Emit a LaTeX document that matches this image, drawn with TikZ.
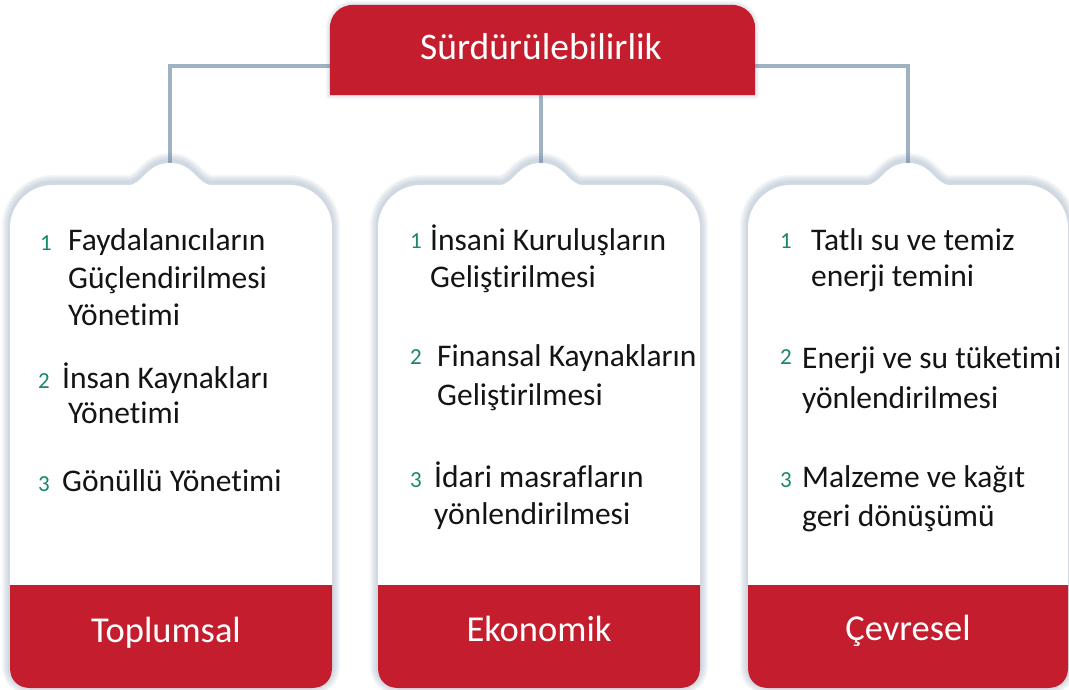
\documentclass[tikz,border=0pt]{standalone}
\usepackage{fontspec}
\setmainfont{Carlito}[Ligatures=NoCommon]
\definecolor{brandred}{RGB}{196,30,46}
\definecolor{connblue}{RGB}{158,178,196}
\definecolor{numcol}{RGB}{25,135,110}
\definecolor{textcol}{RGB}{20,20,20}
\definecolor{shadcol}{RGB}{110,135,165}
\newcommand\itemfont{\fontsize{31.5}{37}\selectfont}
\newcommand\numfont{\fontsize{23}{27}\selectfont}
\newcommand\bigfont{\fontsize{36.5}{44}\selectfont}
\newcommand\ttlfont{\fontsize{37.5}{45}\selectfont}
\newcommand\mycard[3]{%
  \pgfmathsetmacro\cL{#1}\pgfmathsetmacro\cR{#2}\pgfmathsetmacro\cX{#3}%
  \def\cardpath{(\cL,585) -- (\cL,228) .. controls (\cL,204) and ({\cL+20},185) .. ({\cL+42},185)
    -- ({\cX-42},185) .. controls ({\cX-27},185) and ({\cX-24},163) .. (\cX,163)
    .. controls ({\cX+24},163) and ({\cX+27},185) .. ({\cX+42},185)
    -- ({\cR-42},185) .. controls ({\cR-20},185) and (\cR,204) .. (\cR,228)
    -- (\cR,668) .. controls (\cR,680) and ({\cR-8},688) .. ({\cR-20},688)
    -- ({\cL+20},688) .. controls ({\cL+8},688) and (\cL,680) .. (\cL,668) -- cycle}%
  \foreach \w in {16,13,10,7,4}{\draw[glow, line width=\w pt, yshift=2pt] \cardpath;}%
  \fill[white] \cardpath;
  \fill[brandred] (\cL,585) -- (\cR,585) -- (\cR,668) .. controls (\cR,680) and ({\cR-8},688) .. ({\cR-20},688)
    -- ({\cL+20},688) .. controls ({\cL+8},688) and (\cL,680) .. (\cL,668) -- cycle;
}
\begin{document}
\begin{tikzpicture}[x=1pt,y=-1pt,
  glow/.style={draw=shadcol, draw opacity=0.07, line join=round},
  conn/.style={draw=connblue, line width=4.5pt},
  itm/.style={anchor=base west, inner sep=0pt, font=\itemfont, text=textcol},
  num/.style={anchor=base west, inner sep=0pt, font=\numfont, text=numcol},
  lbl/.style={anchor=base, inner sep=0pt, font=\bigfont, text=white}]
\useasboundingbox (0,0) rectangle (1069,690);
\fill[white] (0,0) rectangle (1069,690);
% connectors
\coordinate (hA) at (170,163);
\coordinate (hB) at (541,163);
\coordinate (hC) at (908,163);
\coordinate (jA) at (170,66);
\coordinate (jC) at (908,66);
\node[minimum width=425pt, minimum height=90pt, inner sep=0pt] (titlebox) at (542.5,50) {};
\draw[conn] (hA) -- (jA) -- (jC) -- (hC);
\draw[conn] (titlebox.south -| hB) -- (hB);
% title
\def\titlepath{(titlebox.south west) -- ([yshift=-24pt]titlebox.north west) .. controls ([yshift=-10pt]titlebox.north west) and ([xshift=10pt]titlebox.north west) .. ([xshift=24pt]titlebox.north west)
  -- ([xshift=-24pt]titlebox.north east) .. controls ([xshift=-10pt]titlebox.north east) and ([yshift=-10pt]titlebox.north east) .. ([yshift=-24pt]titlebox.north east)
  -- (titlebox.south east) -- cycle}
\foreach \w in {8,5,2}{\draw[glow, line width=\w pt, yshift=1.5pt] \titlepath;}
\fill[brandred] \titlepath;
\node[lbl, font=\ttlfont] (titletext) at (541,60) {Sürdürülebilirlik};
% cards
\mycard{10}{332}{170}
\mycard{378}{700}{541}
\mycard{748}{1068}{908}
% left card
\node[num] (a1n) at (40,250) {1};
\node[itm] (a1a) at (68,250) {Faydalanıcıların};
\node[itm] (a1b) at (68,288) {Güçlendirilmesi};
\node[itm] (a1c) at (68,325) {Yönetimi};
\node[num] (a2n) at (38,388) {2};
\node[itm] (a2a) at (62,388) {İnsan Kaynakları};
\node[itm] (a2b) at (68,423) {Yönetimi};
\node[num] (a3n) at (38,491) {3};
\node[itm] (a3a) at (62,491) {Gönüllü Yönetimi};
% middle card
\node[num] (b1n) at (410,248) {1};
\node[itm] (b1a) at (430,250) {İnsani Kuruluşların};
\node[itm] (b1b) at (430,287) {Geliştirilmesi};
\node[num] (b2n) at (410,364) {2};
\node[itm] (b2a) at (437,366) {Finansal Kaynakların};
\node[itm] (b2b) at (437,405) {Geliştirilmesi};
\node[num] (b3n) at (410,487) {3};
\node[itm] (b3a) at (434,487) {İdari masrafların};
\node[itm] (b3b) at (434,524) {yönlendirilmesi};
% right card
\node[num] (c1n) at (780,248) {1};
\node[itm] (c1a) at (811,250) {Tatlı su ve temiz};
\node[itm] (c1b) at (811,286) {enerji temini};
\node[num] (c2n) at (780,364) {2};
\node[itm] (c2a) at (802,368) {Enerji ve su tüketimi};
\node[itm] (c2b) at (802,408) {yönlendirilmesi};
\node[num] (c3n) at (780,487) {3};
\node[itm] (c3a) at (802,487) {Malzeme ve kağıt};
\node[itm] (c3b) at (802,526) {geri dönüşümü};
% bottom labels
\node[lbl] (la) at (166,642) {Toplumsal};
\node[lbl] (lb) at (539,641) {Ekonomik};
\node[lbl] (lc) at (908,640) {Çevresel};
\end{tikzpicture}
\end{document}
